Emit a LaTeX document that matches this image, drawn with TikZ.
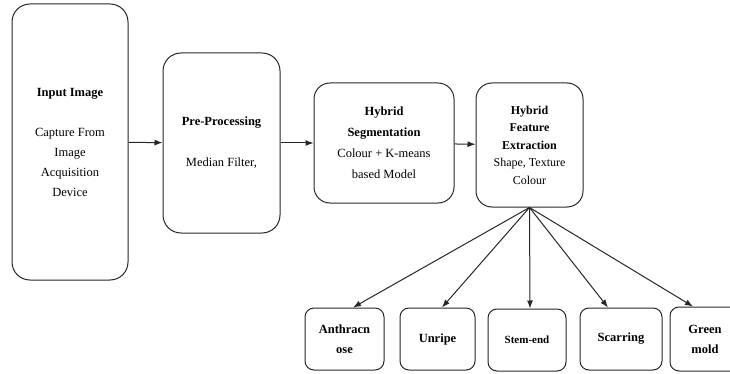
\documentclass[tikz,border=0pt]{standalone}
\usepackage{fontspec}
\setmainfont{Liberation Serif}
\usetikzlibrary{arrows.meta}
\begin{document}
\begin{tikzpicture}[
  x=1pt, y=-1pt,
  block/.style={draw=black!85, line width=1pt, rounded corners=#1, align=center,
                font=\fontsize{12.5}{20}\selectfont, inner sep=2pt},
  block/.default=16pt,
  leaf/.style={block=9pt, minimum height=62pt, font=\fontsize{12.5}{20}\selectfont\bfseries},
  arr/.style={-{Latex[length=8pt,width=6pt]}, line width=1pt, draw=black!85}
]
  \useasboundingbox (0,0) rectangle (730,374);

  % Chaine principale
  \node[block=18pt, minimum width=116pt, minimum height=276pt] (inp) at (70,142)
    {\textbf{Input Image}\\[20pt]Capture From\\Image\\Acquisition\\Device};
  \node[block=18pt, minimum width=117pt, minimum height=180pt] (pre) at (221.5,143)
    {\textbf{Pre-Processing}\\[21pt]Median Filter,};
  \node[block, minimum width=140pt, minimum height=120pt,
        font=\fontsize{12.5}{21}\selectfont] (seg) at (384,143)
    {\textbf{Hybrid}\\\textbf{Segmentation}\\Colour + K-means\\based Model};
  \node[block, minimum width=107pt, minimum height=124pt,
        font=\fontsize{12}{17.5}\selectfont] (feat) at (529.5,145)
    {\textbf{Hybrid}\\\textbf{Feature}\\\textbf{Extraction}\\Shape, Texture\\Colour};

  \draw[arr] (inp) -- (pre);
  \draw[arr] (pre) -- (seg);
  \draw[arr] (seg) -- (feat);

  % Classes de sortie
  \node[leaf, minimum width=79pt] (ant) at (344.5,339) {Anthracn\\ose};
  \node[leaf, minimum width=75pt] (unr) at (437.5,339) {Unripe};
  \node[leaf, minimum width=78pt, font=\fontsize{11}{20}\selectfont\bfseries] (stm) at (527,340) {Stem-end};
  \node[leaf, minimum width=82pt] (scr) at (621,339) {Scarring};
  \node[leaf, minimum width=70pt, minimum height=64pt] (grn) at (705,339) {Green\\mold};

  % Eventail depuis l'extraction
  \draw[arr] (feat.south) -- ([xshift=8.5pt]ant.north);
  \draw[arr] (feat.south) -- ([xshift=4.5pt]unr.north);
  \draw[arr] (feat.south) -- ([xshift=3pt]stm.north);
  \draw[arr] (feat.south) -- ([xshift=-13pt]scr.north);
  \draw[arr] (feat.south) -- ([xshift=-12pt]grn.north);
\end{tikzpicture}
\end{document}
